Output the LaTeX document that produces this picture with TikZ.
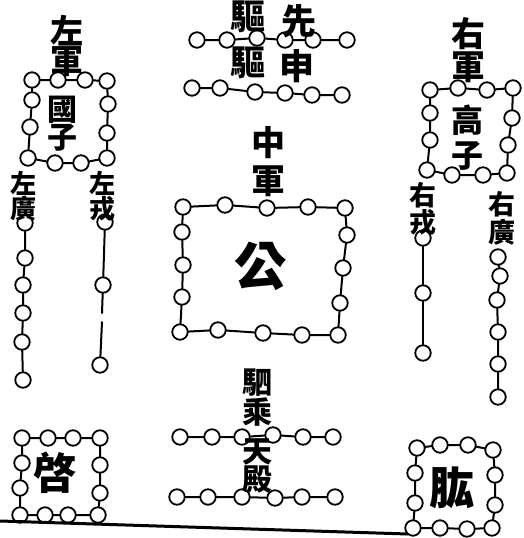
\documentclass[tikz,border=0pt]{standalone}
\usepackage{fontspec}
\newfontfamily\cjk{Noto Sans CJK TC}
\tikzset{
  dot/.style={circle,draw=black,line width=1.8pt,minimum size=15.5pt,inner sep=0pt,fill=white},
  conn/.style={line width=2pt,line cap=round},
  ch/.style={inner sep=0pt,font=\cjk\bfseries\fontsize{#1}{#1}\selectfont},
  ch/.default=30,
  vstack/.style 2 args={inner sep=0pt,align=center,font=\cjk\bfseries\fontsize{#1}{#2}\selectfont},
}
\begin{document}
\begin{tikzpicture}[x=1pt,y=-1pt]
\useasboundingbox (0,0) rectangle (523,538);
% ---- left box (zuo jun guo zi)
\foreach \p [count=\i] in {{32,80},{58,80},{85,80},{107,81},{108,104},{107,133},{107,158},{81,163},{55,163},{28,158},{30,127},{32,100}}
  \node[dot] (A\i) at (\p) {};
\draw[conn] (A1)--(A2)--(A3)--(A4)--(A5)--(A6)--(A7)--(A8)--(A9)--(A10)--(A11)--(A12)--(A1);
% left guang column
\foreach \p [count=\i] in {{25,223},{25,258},{23,285},{23,313},{22,342},{23,380}}
  \node[dot] (B\i) at (\p) {};
\draw[conn] (B1)--(B2)--(B3)--(B4)--(B5)--(B6);
% left rong column
\foreach \p [count=\i] in {{105,222},{103,285},{100,365}}
  \node[dot] (C\i) at (\p) {};
\coordinate (Cg1) at (102,313);
\coordinate (Cg2) at (102,322);
\draw[conn] (C1)--(C2)--(Cg1);
\draw[conn] (Cg2)--(C3);
% ---- centre top rows
\foreach \p [count=\i] in {{197,40},{227,40},{257,38},{285,40},{313,40},{347,40}}
  \node[dot] (D\i) at (\p) {};
\draw[conn] (D1)--(D2)--(D3)--(D4)--(D5)--(D6);
\foreach \p [count=\i] in {{192,88},{220,88},{255,92},{285,93},{312,95},{342,95}}
  \node[dot] (E\i) at (\p) {};
\draw[conn] (E1)--(E2)--(E3)--(E4)--(E5)--(E6);
% ---- centre box
\foreach \p [count=\i] in {{183,207},{225,205},{267,208},{308,207},{345,208},{347,235},{343,268},{340,303},{338,335},{302,335},{263,333},{218,330},{180,332},{182,297},{183,265},{182,232}}
  \node[dot] (F\i) at (\p) {};
\draw[conn] (F1)--(F2)--(F3)--(F4)--(F5)--(F6)--(F7)--(F8)--(F9)--(F10)--(F11)--(F12)--(F13)--(F14)--(F15)--(F16)--(F1);
% ---- right box
\foreach \p [count=\i] in {{430,90},{458,88},{487,90},{513,88},{512,118},{508,145},{507,173},{483,175},{452,175},{427,170},{430,140},{430,113}}
  \node[dot] (G\i) at (\p) {};
\draw[conn] (G1)--(G2)--(G3)--(G4)--(G5)--(G6)--(G7)--(G8)--(G9)--(G10)--(G11)--(G12)--(G1);
% right rong column
\foreach \p [count=\i] in {{423,238},{423,293},{423,353}}
  \node[dot] (H\i) at (\p) {};
\draw[conn] (H1)--(H2)--(H3);
% right guang column
\foreach \p [count=\i] in {{498,257},{500,276},{497,300},{498,332},{498,364},{498,397}}
  \node[dot] (I\i) at (\p) {};
\draw[conn] (I1)--(I2)--(I3)--(I4)--(I5)--(I6);
% ---- centre bottom rows
\foreach \p [count=\i] in {{180,437},{212,437},{242,437},{273,435},{303,437},{333,437}}
  \node[dot] (J\i) at (\p) {};
\draw[conn] (J1)--(J2)--(J3)--(J4)--(J5)--(J6);
\foreach \p [count=\i] in {{177,497},{208,497},{242,497},{275,498},{302,497},{335,497}}
  \node[dot] (K\i) at (\p) {};
\draw[conn] (K1)--(K2)--(K3)--(K4)--(K5)--(K6);
% ---- bottom left box
\foreach \p [count=\i] in {{22,438},{48,438},{73,438},{100,438},{100,465},{100,493},{98,515},{68,515},{45,515},{20,515},{20,488},{22,463}}
  \node[dot] (L\i) at (\p) {};
\draw[conn] (L1)--(L2)--(L3)--(L4)--(L5)--(L6)--(L7)--(L8)--(L9)--(L10)--(L11)--(L12)--(L1);
% ---- bottom right box
\foreach \p [count=\i] in {{417,448},{440,445},{468,445},{493,450},{495,475},{495,505},{492,528},{467,529},{440,528},{413,528},{415,503},{415,473}}
  \node[dot] (M\i) at (\p) {};
\draw[conn] (M1)--(M2)--(M3)--(M4)--(M5)--(M6)--(M7)--(M8)--(M9)--(M10)--(M11)--(M12)--(M1);
% ---- bottom rule
\coordinate (R1) at (0,521);
\coordinate (R2) at (408,534);
\draw[line width=3pt] (R1) -- (R2);
% ---- texts
\node[vstack={33}{29}] (t1) at (67,46) {左\\軍};
\node[vstack={30}{28}] (t3) at (62,124) {國\\子};
\node[vstack={26}{24}] (t5) at (23,196) {左\\廣};
\node[vstack={26}{23}] (t7) at (102,196) {左\\戎};
\node[ch=35] (t9) at (248,17) {驅};
\node[ch=35] (t10) at (248,63) {驅};
\node[ch=35] (t11) at (299,21) {先};
\node[ch=35] (t12) at (297,66) {申};
\node[vstack={34}{38}] (t13) at (268,162) {中\\軍};
\node[ch=52] (t15) at (260,266) {公};
\node[vstack={34}{33}] (t16) at (468,50) {右\\軍};
\node[vstack={32}{35}] (t18) at (467,138) {高\\子};
\node[vstack={27}{24}] (t20) at (423,209) {右\\戎};
\node[vstack={27}{28}] (t22) at (502,218) {右\\廣};
\node[vstack={30}{30}] (t24) at (257,398) {駟\\乘};
\node[vstack={30}{28}] (t26) at (257,466) {天\\殿};
\node[ch=43] (t28) at (55,473) {啓};
\node[ch=45] (t29) at (452,488) {肱};
\end{tikzpicture}
\end{document}
